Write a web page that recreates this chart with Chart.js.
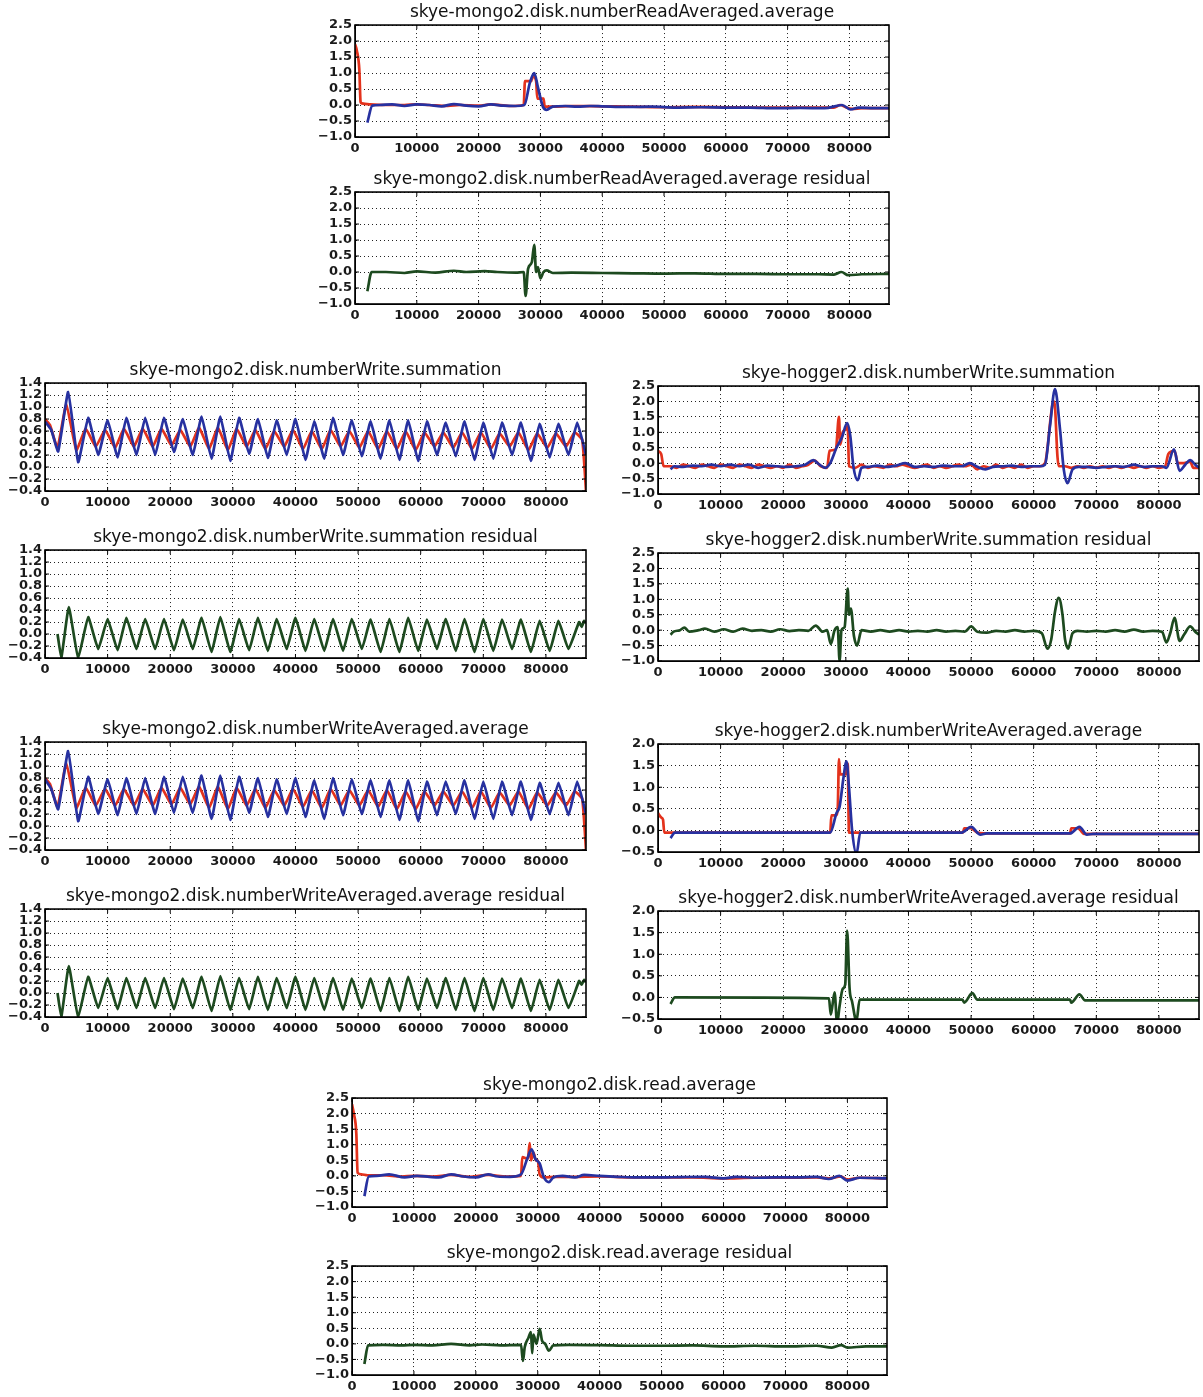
<!DOCTYPE html>
<html><head><meta charset="utf-8">
<script src="https://cdn.jsdelivr.net/npm/chart.js@4.4.1/dist/chart.umd.min.js"></script>
<style>
html,body{margin:0;padding:0;background:#fff;width:1203px;height:1397px;overflow:hidden;}
.p{position:absolute;}
</style></head><body>
<script>
// ---------- tick labels ----------
const xTicks = [0,10000,20000,30000,40000,50000,60000,70000,80000];
const yTicksWide = [-1.0,-0.5,0.0,0.5,1.0,1.5,2.0,2.5];
const yTicksMongo = [-0.4,-0.2,0.0,0.2,0.4,0.6,0.8,1.0,1.2,1.4];
const yTicksHogAvg = [-0.5,0.0,0.5,1.0,1.5,2.0];

// ---------- skye-mongo2.disk.numberReadAveraged.average ----------
const readAvgRedX = [0,300,700,900,1100,2500,5000,8000,10000,12000,15000,17000,20000,22000,25000,27300,27500,28500,28800,29300,29500,30500,30700,32000,35000,40000,45000,50000,55000,60000,65000,70000,75000,77500,78500,79500,80500,82000,86400];
const readAvgRedY = [1.9,1.7,1.1,0.1,0.05,0.02,0.0,0.0,0.02,0.0,-0.03,0.0,-0.02,0.02,-0.03,0.0,0.75,0.75,0.9,0.75,0.2,0.2,-0.05,-0.05,-0.03,-0.04,-0.05,-0.07,-0.06,-0.07,-0.08,-0.08,-0.08,-0.08,0.0,-0.08,-0.12,-0.1,-0.1];
const readAvgBlueX = [2000,2800,4000,6000,8000,10000,12000,14000,16000,18000,20000,22000,24000,26000,27400,28300,29000,29600,30400,31000,32000,34000,36000,38000,40000,44000,48000,52000,56000,60000,64000,68000,72000,76000,78800,80200,81500,84000,86400];
const readAvgBlueY = [-0.55,-0.02,0.0,0.02,-0.03,0.02,0.0,-0.04,0.03,-0.02,-0.04,0.02,-0.02,-0.03,0.0,0.7,1.0,0.55,-0.05,-0.15,-0.05,-0.03,-0.05,-0.03,-0.04,-0.06,-0.05,-0.08,-0.07,-0.08,-0.08,-0.1,-0.09,-0.1,0.0,-0.14,-0.08,-0.1,-0.1];
const readAvgResX = [2000,2700,5000,8000,10000,13000,16000,18000,21000,23000,26000,27300,27600,28000,28600,29000,29300,29600,30000,30500,31000,32000,35000,40000,45000,50000,55000,60000,65000,70000,75000,77500,78700,79800,82000,86400];
const readAvgResY = [-0.6,0.0,0.0,-0.03,0.02,-0.02,0.04,0.0,0.03,0.0,-0.02,0.0,-0.75,0.1,0.3,0.85,0.0,0.15,-0.2,0.0,0.05,-0.03,-0.02,-0.03,-0.04,-0.05,-0.04,-0.06,-0.06,-0.07,-0.07,-0.08,0.0,-0.1,-0.07,-0.06];

// ---------- skye-mongo2 numberWrite (shared time stamps) ----------
const mongoBlueX = [0,1000,2100,3700,5300,6900,8500,10000,11600,13000,14600,16000,17600,19000,20600,22000,23600,25000,26600,28000,29600,31000,32600,34000,35600,37000,38600,40000,41600,43000,44600,46000,47600,49000,50600,52000,53600,55000,56600,58000,59600,61000,62600,64000,65600,67000,68600,70000,71600,73000,74600,76000,77600,79000,80600,82000,83600,85000,86400];
const mongoRedX = [0,800,2000,3400,5000,6500,8100,9600,11200,12600,14200,15600,17200,18600,20200,21600,23200,24600,26200,27600,29200,30600,32200,33600,35200,36600,38200,39600,41200,42600,44200,45600,47200,48600,50200,51600,53200,54600,56200,57600,59200,60600,62200,63600,65200,66600,68200,69600,71200,72600,74200,75600,77200,78600,80200,81600,83200,84600,85800,86400];
const mongoResX = [2000,2600,3800,5300,6900,8500,10000,11600,13000,14600,16000,17600,19000,20600,22000,23600,25000,26600,28000,29600,31000,32600,34000,35600,37000,38600,40000,41600,43000,44600,46000,47600,49000,50600,52000,53600,55000,56600,58000,59600,61000,62600,64000,65600,67000,68600,70000,71600,73000,74600,76000,77600,79000,80600,82000,83600,85300,85700,86100,86400];

// skye-mongo2.disk.numberWrite.summation
const writeSumBlueY = [0.76,0.62,0.26,1.25,0.08,0.82,0.2,0.78,0.16,0.82,0.2,0.82,0.2,0.82,0.25,0.8,0.2,0.84,0.14,0.84,0.1,0.82,0.22,0.8,0.15,0.78,0.2,0.8,0.12,0.76,0.14,0.82,0.2,0.78,0.18,0.76,0.14,0.78,0.12,0.78,0.1,0.76,0.2,0.74,0.18,0.76,0.12,0.74,0.14,0.74,0.2,0.74,0.1,0.72,0.16,0.72,0.2,0.74,0.2];
const writeSumRedY = [0.8,0.7,0.32,1.05,0.28,0.64,0.34,0.62,0.32,0.64,0.34,0.64,0.34,0.64,0.36,0.62,0.34,0.66,0.3,0.66,0.28,0.64,0.34,0.62,0.3,0.6,0.34,0.62,0.3,0.6,0.3,0.62,0.34,0.6,0.32,0.6,0.3,0.6,0.3,0.6,0.28,0.58,0.34,0.58,0.32,0.58,0.3,0.58,0.3,0.56,0.34,0.58,0.28,0.56,0.32,0.56,0.34,0.58,0.45,-0.4];
const writeSumResY = [0.0,-0.4,0.45,-0.4,0.28,-0.25,0.25,-0.27,0.27,-0.25,0.25,-0.25,0.25,-0.27,0.24,-0.25,0.27,-0.3,0.28,-0.3,0.25,-0.27,0.27,-0.28,0.25,-0.25,0.27,-0.28,0.25,-0.28,0.25,-0.28,0.25,-0.25,0.24,-0.3,0.25,-0.3,0.27,-0.28,0.24,-0.25,0.25,-0.28,0.25,-0.3,0.25,-0.28,0.24,-0.25,0.24,-0.3,0.22,-0.28,0.22,-0.25,0.2,0.12,0.22,0.18];

// skye-mongo2.disk.numberWriteAveraged.average
const writeAvgBlueY = [0.78,0.62,0.28,1.25,0.08,0.82,0.2,0.78,0.18,0.8,0.2,0.8,0.2,0.82,0.22,0.82,0.22,0.84,0.12,0.84,0.1,0.82,0.22,0.8,0.15,0.78,0.2,0.8,0.15,0.76,0.12,0.8,0.18,0.78,0.2,0.76,0.15,0.76,0.1,0.76,0.08,0.74,0.18,0.74,0.2,0.76,0.12,0.74,0.12,0.74,0.18,0.74,0.1,0.72,0.2,0.72,0.18,0.74,0.2];
const writeAvgRedY = [0.8,0.7,0.32,1.05,0.3,0.64,0.34,0.62,0.34,0.62,0.34,0.62,0.34,0.64,0.36,0.64,0.36,0.66,0.3,0.66,0.28,0.64,0.34,0.62,0.3,0.6,0.34,0.62,0.32,0.6,0.3,0.62,0.34,0.6,0.34,0.6,0.32,0.6,0.28,0.58,0.28,0.58,0.34,0.58,0.34,0.58,0.3,0.58,0.3,0.56,0.34,0.58,0.28,0.56,0.34,0.56,0.34,0.58,0.45,-0.4];
const writeAvgResY = [0.0,-0.4,0.45,-0.4,0.27,-0.25,0.25,-0.27,0.25,-0.25,0.25,-0.25,0.25,-0.27,0.24,-0.25,0.27,-0.3,0.28,-0.28,0.25,-0.27,0.27,-0.28,0.25,-0.25,0.27,-0.28,0.25,-0.28,0.25,-0.28,0.24,-0.25,0.24,-0.3,0.25,-0.3,0.27,-0.28,0.24,-0.25,0.25,-0.28,0.25,-0.3,0.25,-0.28,0.24,-0.25,0.24,-0.3,0.22,-0.28,0.22,-0.25,0.2,0.14,0.22,0.18];

// ---------- skye-hogger2.disk.numberWrite.summation ----------
const hogSumRedX = [0,500,900,2000,3000,4000,5000,6000,7000,8000,9000,10000,11000,12000,13000,14000,15000,16000,17000,18000,19000,20000,21000,22000,23000,24000,25000,26000,27000,27400,28400,28900,29100,29500,30000,30300,30500,31500,32500,33500,34500,36000,37000,38000,39000,40000,41000,42000,43000,44000,45000,46000,47000,48000,49000,50000,51000,52000,53000,54000,55000,56000,57000,58000,59000,60000,61000,61800,63000,63300,63800,64000,65000,66000,67000,68000,69000,70000,71000,72000,73000,74000,75000,76000,77000,78000,79000,80000,81000,81500,82500,83000,84000,85000,85500,86400];
const hogSumRedY = [0.4,0.3,-0.1,-0.1,-0.15,-0.05,-0.1,-0.15,-0.05,-0.1,-0.15,-0.05,-0.1,-0.15,-0.05,-0.1,-0.15,-0.05,-0.1,-0.15,-0.1,-0.15,-0.05,-0.15,-0.1,-0.05,0.08,-0.1,-0.15,0.4,0.45,1.5,0.6,1.0,1.1,1.2,-0.1,-0.15,-0.05,-0.15,-0.1,-0.15,-0.05,-0.1,-0.05,-0.1,-0.15,-0.1,-0.05,-0.15,-0.1,-0.15,-0.1,-0.05,-0.1,-0.05,-0.2,-0.1,-0.15,-0.05,-0.15,-0.1,-0.15,-0.05,-0.15,-0.1,-0.1,0.0,1.9,2.0,0.2,-0.1,-0.1,-0.15,-0.1,-0.15,-0.1,-0.15,-0.1,-0.15,-0.1,-0.15,-0.1,-0.15,-0.1,-0.15,-0.1,-0.15,-0.1,0.3,0.4,0.0,0.0,0.05,-0.15,-0.15];
const hogSumBlueX = [2000,2600,4000,5500,7000,8500,10000,11500,13000,14500,16000,17500,19000,20500,22000,23500,24800,25800,26700,27500,28500,29400,30200,30700,31200,31900,32500,33500,35000,36500,38000,39500,41000,42500,44000,45500,47000,48500,49800,51000,52300,53500,55000,56500,58000,59500,61000,61800,62600,63400,64200,64800,65400,66200,67200,68500,70000,71500,73000,74500,76000,77500,79000,80500,81200,82400,83300,84200,85000,85800,86400];
const hogSumBlueY = [-0.2,-0.1,-0.12,-0.08,-0.1,-0.05,-0.1,-0.05,-0.1,-0.05,-0.15,-0.08,-0.1,-0.12,-0.1,-0.05,0.1,-0.05,-0.15,0.0,0.5,0.85,1.3,0.9,-0.1,-0.55,-0.15,-0.12,-0.08,-0.12,-0.08,0.0,-0.12,-0.1,-0.12,-0.08,-0.1,-0.1,0.0,-0.12,-0.2,-0.12,-0.1,-0.08,-0.12,-0.1,-0.1,-0.05,1.2,2.4,1.1,-0.2,-0.65,-0.2,-0.12,-0.12,-0.15,-0.12,-0.1,-0.12,-0.05,-0.12,-0.1,-0.1,-0.15,0.45,-0.25,-0.05,0.1,-0.05,-0.15];
const hogSumResX = [2000,2500,3500,4200,5000,6500,7500,9000,10500,12000,13500,15000,16500,18000,19500,21000,22500,24000,25200,26300,27000,27600,28200,28700,29000,29300,29800,30300,30500,30800,31300,31800,32500,34000,35500,37000,38500,40000,41500,43000,44500,46000,47500,49000,50000,51000,52500,54000,55500,57000,58500,60000,61300,62200,62800,63400,64000,64600,65000,65500,66200,67000,68500,70000,71500,73000,74500,76000,77500,79000,80500,81200,81800,82500,83300,84000,85000,85800,86400];
const hogSumResY = [-0.15,-0.05,0.0,0.08,-0.05,0.0,0.05,-0.05,0.03,-0.05,0.05,-0.02,0.0,-0.05,0.03,-0.03,0.0,-0.02,0.15,-0.05,0.0,-0.45,0.0,0.1,-1.0,0.0,0.1,1.35,0.5,0.7,-0.2,-0.5,0.0,-0.05,0.0,-0.05,0.0,-0.05,-0.02,-0.05,0.0,-0.05,-0.02,-0.05,0.12,-0.05,-0.08,-0.02,-0.05,0.0,-0.05,-0.02,-0.1,-0.6,-0.3,0.6,1.05,0.5,-0.3,-0.6,-0.1,-0.02,-0.05,-0.02,-0.05,0.0,-0.05,0.02,-0.05,-0.02,-0.05,-0.4,-0.1,0.4,-0.35,-0.15,0.12,-0.05,-0.15];

// ---------- skye-hogger2.disk.numberWriteAveraged.average ----------
const hogAvgRedX = [0,500,800,1000,3000,27500,27700,28400,28700,28900,29100,30000,30300,30500,32000,48700,48900,50000,50500,51000,52000,65800,66000,67000,67500,68000,86400];
const hogAvgRedY = [0.4,0.3,0.25,-0.05,-0.05,-0.05,0.35,0.35,0.5,1.65,1.3,1.3,1.55,-0.05,-0.05,-0.05,0.05,0.05,0.0,-0.05,-0.07,-0.07,0.05,0.05,0.0,-0.08,-0.08];
const hogAvgBlueX = [2000,2700,27500,28500,29000,29600,30100,30500,31000,31700,32300,48500,50000,51500,52500,65800,67300,68500,69500,86400];
const hogAvgBlueY = [-0.18,-0.05,-0.05,0.4,0.55,1.2,1.6,1.0,0.0,-0.55,-0.05,-0.05,0.08,-0.1,-0.07,-0.07,0.08,-0.1,-0.08,-0.08];
const hogAvgResX = [2000,2700,27300,27600,28200,28600,29000,29500,29900,30200,30600,31000,31700,32200,48600,48900,50200,51000,65800,66000,67300,68200,86400];
const hogAvgResY = [-0.15,0.0,-0.02,-0.4,0.12,-0.6,-0.2,0.2,0.3,1.55,0.2,-0.1,-0.55,-0.05,-0.05,-0.12,0.1,-0.05,-0.05,-0.12,0.07,-0.07,-0.07];

// ---------- skye-mongo2.disk.read.average ----------
const readRedX = [0,300,700,900,1500,2500,5000,8000,10000,13000,16000,19000,22000,25000,27300,27500,28400,28700,28900,29300,29700,30000,30300,31000,33000,36000,40000,45000,50000,55000,60000,65000,70000,75000,77000,79000,80000,82000,86400];
const readRedY = [2.3,2.0,1.35,0.1,0.05,0.02,0.02,-0.02,0.0,-0.02,0.03,-0.03,0.03,-0.02,0.0,0.6,0.55,1.05,0.5,0.75,0.5,0.5,0.05,-0.05,-0.03,-0.03,-0.02,-0.05,-0.05,-0.05,-0.08,-0.06,-0.06,-0.05,-0.08,-0.02,-0.12,-0.06,-0.08];
const readBlueX = [2000,2700,4000,6000,8500,10500,12500,14000,16000,18000,20000,22000,23500,25500,27300,28300,29000,29600,30300,31000,31800,32500,34000,36000,37500,40000,43000,46000,50000,53000,57000,60000,62000,65000,68000,72000,75000,77000,78700,80000,82000,86400];
const readBlueY = [-0.65,-0.02,0.0,0.05,-0.05,0.0,-0.03,-0.05,0.05,-0.02,-0.05,0.05,-0.02,-0.03,0.05,0.55,0.85,0.55,0.4,-0.05,-0.2,-0.05,0.0,-0.05,0.03,0.0,-0.03,-0.05,-0.05,-0.04,-0.03,-0.08,-0.03,-0.06,-0.05,-0.05,-0.03,-0.1,0.0,-0.15,-0.06,-0.08];
const readResX = [2000,2600,5000,8000,10000,13000,16000,19000,21000,24000,27300,27600,27900,28500,28900,29100,29300,29800,30300,30700,31200,31800,32500,35000,40000,45000,50000,55000,60000,65000,70000,75000,77500,79000,80000,83000,86400];
const readResY = [-0.65,-0.05,-0.03,-0.05,-0.03,-0.05,0.0,-0.05,-0.02,-0.05,-0.03,-0.55,-0.1,0.2,0.38,-0.3,0.3,0.0,0.48,0.1,0.0,-0.22,-0.05,-0.03,-0.04,-0.06,-0.06,-0.05,-0.08,-0.06,-0.08,-0.06,-0.12,-0.04,-0.12,-0.08,-0.08];

// ---------- rendering ----------
const FONT = "'DejaVu Sans', sans-serif";
const RED = '#e3321c', BLUE = '#2731a0', GREEN = '#1d4a1f';
const YW = 46, TH = 22, XH = 22, RP = 8;

function pts(xs, ys) { return xs.map((x, i) => ({x: x, y: ys[i]})); }
function fmtY(v) { return v.toFixed(1).replace('-', '\u2212'); }

const framePlugin = {
  id: 'frame',
  afterDraw(chart) {
    const a = chart.chartArea, c = chart.ctx;
    const xs = chart.scales.x, ys = chart.scales.y;
    c.save();
    c.strokeStyle = '#000';
    c.lineWidth = 1;
    c.beginPath();
    xs.ticks.forEach(t => { const px = xs.getPixelForValue(t.value);
      c.moveTo(px, a.bottom); c.lineTo(px, a.bottom - 4); c.moveTo(px, a.top); c.lineTo(px, a.top + 4); });
    ys.ticks.forEach(t => { const py = ys.getPixelForValue(t.value);
      c.moveTo(a.left, py); c.lineTo(a.left + 4, py); c.moveTo(a.right, py); c.lineTo(a.right - 4, py); });
    c.stroke();
    c.lineWidth = 1.6;
    c.strokeRect(a.left, a.top, a.right - a.left, a.bottom - a.top);
    c.restore();
  }
};

function makePlot(p) {
  const W = YW + p.w + RP, H = TH + p.h + XH;
  const div = document.createElement('div');
  div.className = 'p';
  div.style.left = (p.left - YW) + 'px';
  div.style.top = (p.top - TH) + 'px';
  div.style.width = W + 'px';
  div.style.height = H + 'px';
  const cv = document.createElement('canvas');
  cv.width = W; cv.height = H;
  cv.style.width = W + 'px'; cv.style.height = H + 'px';
  div.appendChild(cv);
  document.body.appendChild(div);
  const gridOpts = {color: '#222', lineWidth: 1, drawTicks: false};
  const borderOpts = {display: true, color: '#000', width: 1, dash: [1, 3]};
  const lineShape = p.zigzag ? {tension: 0.12} : {cubicInterpolationMode: 'monotone'};
  new Chart(cv, {
    type: 'line',
    data: {datasets: p.series.map(s => Object.assign({
      data: pts(s.x, s.y), borderColor: s.color, borderWidth: 2.7,
      pointRadius: 0, fill: false, borderJoinStyle: 'round'
    }, lineShape))},
    options: {
      responsive: false, animation: false, events: [],
      layout: {padding: {left: 0, right: RP, top: 0, bottom: 0}},
      plugins: {
        legend: {display: false}, tooltip: {enabled: false},
        title: {display: true, text: p.title, fullSize: false, color: '#111',
          font: {family: FONT, size: 17, weight: 'normal', lineHeight: 1.18},
          padding: {top: 0, bottom: TH - 20}}
      },
      scales: {
        x: {type: 'linear', min: 0, max: 86400,
          afterBuildTicks: s => { s.ticks = xTicks.map(v => ({value: v})); },
          afterFit: s => { s.height = XH; },
          grid: gridOpts, border: borderOpts,
          ticks: {padding: 4, maxRotation: 0, autoSkip: false, color: '#1a1a1a',
            font: {family: FONT, size: 13, weight: 'bold'}, callback: v => String(v)}},
        y: {type: 'linear', min: p.ymin, max: p.ymax,
          afterBuildTicks: s => { s.ticks = p.yTicks.map(v => ({value: v})); },
          afterFit: s => { s.width = YW; },
          grid: gridOpts, border: borderOpts,
          ticks: {padding: 3, autoSkip: false, color: '#1a1a1a',
            font: {family: FONT, size: 13, weight: 'bold'}, callback: v => fmtY(v)}}
      }
    },
    plugins: [framePlugin]
  });
}

const wide = {ymin: -1.0, ymax: 2.5, yTicks: yTicksWide};
const mongo = {ymin: -0.4, ymax: 1.4, yTicks: yTicksMongo, zigzag: true};
const hogAvg = {ymin: -0.5, ymax: 2.0, yTicks: yTicksHogAvg};

const plots = [
  Object.assign({left: 355, top: 25, w: 534, h: 112, title: 'skye-mongo2.disk.numberReadAveraged.average',
    series: [{x: readAvgBlueX, y: readAvgBlueY, color: BLUE}, {x: readAvgRedX, y: readAvgRedY, color: RED}]}, wide),
  Object.assign({left: 355, top: 192, w: 534, h: 112, title: 'skye-mongo2.disk.numberReadAveraged.average residual',
    series: [{x: readAvgResX, y: readAvgResY, color: GREEN}]}, wide),
  Object.assign({left: 45, top: 383, w: 541, h: 108, title: 'skye-mongo2.disk.numberWrite.summation',
    series: [{x: mongoBlueX, y: writeSumBlueY, color: BLUE}, {x: mongoRedX, y: writeSumRedY, color: RED}]}, mongo),
  Object.assign({left: 45, top: 550, w: 541, h: 108, title: 'skye-mongo2.disk.numberWrite.summation residual',
    series: [{x: mongoResX, y: writeSumResY, color: GREEN}]}, mongo),
  Object.assign({left: 658, top: 386, w: 541, h: 108, title: 'skye-hogger2.disk.numberWrite.summation',
    series: [{x: hogSumBlueX, y: hogSumBlueY, color: BLUE}, {x: hogSumRedX, y: hogSumRedY, color: RED}]}, wide),
  Object.assign({left: 658, top: 553, w: 541, h: 108, title: 'skye-hogger2.disk.numberWrite.summation residual',
    series: [{x: hogSumResX, y: hogSumResY, color: GREEN}]}, wide),
  Object.assign({left: 45, top: 742, w: 541, h: 108, title: 'skye-mongo2.disk.numberWriteAveraged.average',
    series: [{x: mongoBlueX, y: writeAvgBlueY, color: BLUE}, {x: mongoRedX, y: writeAvgRedY, color: RED}]}, mongo),
  Object.assign({left: 45, top: 909, w: 541, h: 108, title: 'skye-mongo2.disk.numberWriteAveraged.average residual',
    series: [{x: mongoResX, y: writeAvgResY, color: GREEN}]}, mongo),
  Object.assign({left: 658, top: 744, w: 541, h: 108, title: 'skye-hogger2.disk.numberWriteAveraged.average',
    series: [{x: hogAvgBlueX, y: hogAvgBlueY, color: BLUE}, {x: hogAvgRedX, y: hogAvgRedY, color: RED}]}, hogAvg),
  Object.assign({left: 658, top: 911, w: 541, h: 108, title: 'skye-hogger2.disk.numberWriteAveraged.average residual',
    series: [{x: hogAvgResX, y: hogAvgResY, color: GREEN}]}, hogAvg),
  Object.assign({left: 352, top: 1098, w: 535, h: 109, title: 'skye-mongo2.disk.read.average',
    series: [{x: readBlueX, y: readBlueY, color: BLUE}, {x: readRedX, y: readRedY, color: RED}]}, wide),
  Object.assign({left: 352, top: 1266, w: 535, h: 109, title: 'skye-mongo2.disk.read.average residual',
    series: [{x: readResX, y: readResY, color: GREEN}]}, wide)
];
plots.forEach(makePlot);
</script>
</body></html>
